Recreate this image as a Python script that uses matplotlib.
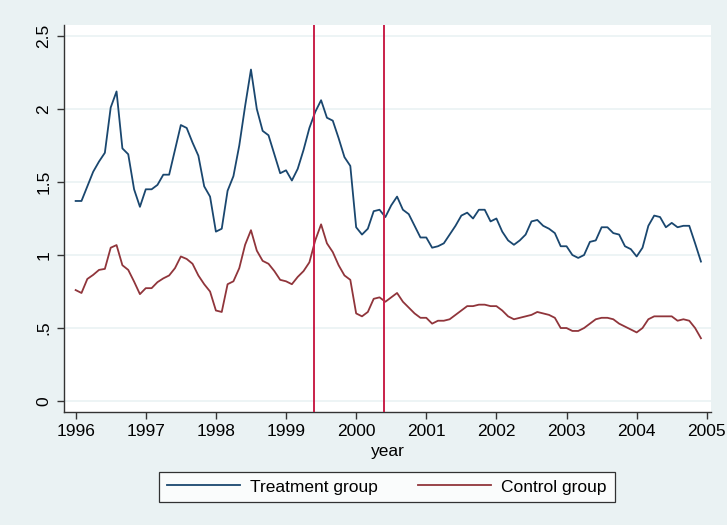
import numpy as np
import matplotlib
matplotlib.use("Agg")
import matplotlib.pyplot as plt

plt.rcParams['font.family'] = ['Liberation Sans', 'DejaVu Sans']

# monthly observations, Jan 1996 - Dec 2004
start_year = 1996
treatment = [
    1.37, 1.37, 1.47, 1.57, 1.64, 1.70, 2.01, 2.12, 1.73, 1.69, 1.45, 1.33,
    1.45, 1.45, 1.48, 1.55, 1.55, 1.72, 1.89, 1.87, 1.77, 1.68, 1.47, 1.40,
    1.16, 1.18, 1.44, 1.54, 1.75, 2.02, 2.27, 2.00, 1.85, 1.82, 1.69, 1.56,
    1.58, 1.51, 1.59, 1.72, 1.87, 1.98, 2.06, 1.94, 1.92, 1.80, 1.67, 1.61,
    1.19, 1.14, 1.18, 1.30, 1.31, 1.26, 1.34, 1.40, 1.31, 1.28, 1.20, 1.12,
    1.12, 1.05, 1.06, 1.08, 1.14, 1.20, 1.27, 1.29, 1.25, 1.31, 1.31, 1.23,
    1.25, 1.16, 1.10, 1.07, 1.10, 1.14, 1.23, 1.24, 1.20, 1.18, 1.15, 1.06,
    1.06, 1.00, 0.98, 1.00, 1.09, 1.10, 1.19, 1.19, 1.15, 1.14, 1.06, 1.04,
    0.99, 1.05, 1.20, 1.27, 1.26, 1.19, 1.22, 1.19, 1.20, 1.20, 1.08, 0.955,
]
control = [
    0.76, 0.74, 0.836, 0.864, 0.898, 0.905, 1.05, 1.068, 0.93, 0.898, 0.818, 0.732,
    0.773, 0.773, 0.814, 0.84, 0.86, 0.91, 0.99, 0.973, 0.94, 0.86, 0.80, 0.75,
    0.62, 0.61, 0.80, 0.82, 0.91, 1.07, 1.17, 1.03, 0.96, 0.94, 0.89, 0.83,
    0.82, 0.80, 0.85, 0.89, 0.95, 1.10, 1.21, 1.08, 1.02, 0.93, 0.86, 0.83,
    0.60, 0.58, 0.61, 0.70, 0.71, 0.68, 0.71, 0.74, 0.68, 0.64, 0.60, 0.57,
    0.57, 0.53, 0.55, 0.55, 0.56, 0.59, 0.62, 0.65, 0.65, 0.66, 0.66, 0.65,
    0.65, 0.62, 0.58, 0.56, 0.57, 0.58, 0.59, 0.61, 0.60, 0.59, 0.57, 0.50,
    0.50, 0.48, 0.48, 0.50, 0.53, 0.56, 0.57, 0.57, 0.56, 0.53, 0.51, 0.49,
    0.47, 0.50, 0.56, 0.58, 0.58, 0.58, 0.58, 0.55, 0.56, 0.55, 0.50, 0.43,
]
event_years = [1999.4, 2000.4]
x_ticks = list(range(1996, 2006))
y_ticks = [0, 0.5, 1, 1.5, 2, 2.5]
y_ticklabels = ['0', '.5', '1', '1.5', '2', '2.5']

bg = '#eaf2f3'
navy = '#1a476f'
maroon = '#90353b'
red = '#c9204a'

years = start_year + np.arange(len(treatment)) / 12.0

fig = plt.figure(figsize=(7.27, 5.25), dpi=100, facecolor=bg)
ax = fig.add_axes([64 / 727, 1 - 412 / 525, (711 - 64) / 727, (412 - 25) / 525])
ax.set_facecolor('white')

for yv in y_ticks:
    ax.axhline(yv, color=bg, lw=1.2, zorder=0)

ax.plot(years, treatment, color=navy, lw=1.3, label='Treatment group', zorder=3)
ax.plot(years, control, color=maroon, lw=1.3, label='Control group', zorder=3)
for ev in event_years:
    ax.axvline(ev, color=red, lw=1.4, zorder=4)

ax.set_xlim(1995.834, 2005.06)
ax.set_ylim(-0.075, 2.575)
ax.set_xticks(x_ticks)
ax.set_yticks(y_ticks)
ax.set_yticklabels(y_ticklabels, rotation=90, va='center')
ax.tick_params(axis='both', direction='out', length=5, width=1, color='#333333',
               labelsize=12.5, pad=4)
ax.set_xlabel('year', fontsize=12.5, labelpad=3)

for side in ['top', 'right']:
    ax.spines[side].set_visible(False)
for side in ['left', 'bottom']:
    ax.spines[side].set_color('#333333')
    ax.spines[side].set_linewidth(1.0)

handles, labels = ax.get_legend_handles_labels()
leg = fig.legend(handles, labels, loc='center', bbox_to_anchor=(387 / 727, 1 - 487 / 525),
                 ncol=2, fontsize=12.5, frameon=True, fancybox=False,
                 handlelength=4.2, columnspacing=2.3, borderpad=0.45, handletextpad=0.6)
leg.get_frame().set_edgecolor('black')
leg.get_frame().set_linewidth(0.9)

fig.savefig('out.png', dpi=100, facecolor=bg)
